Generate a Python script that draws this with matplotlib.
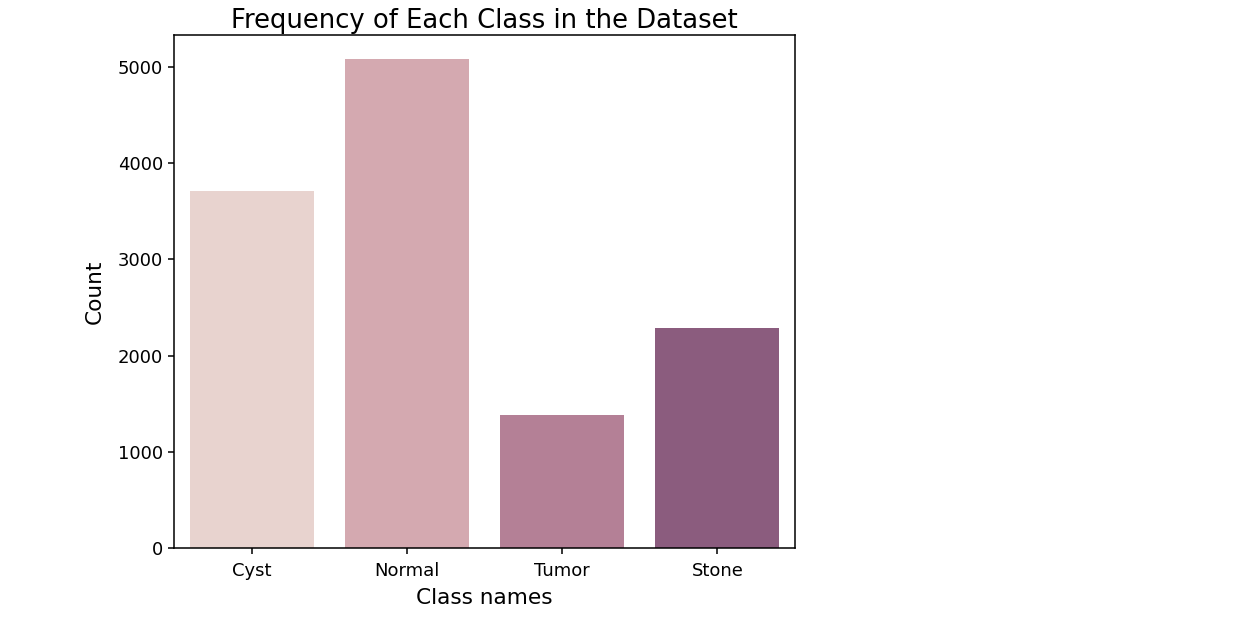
import matplotlib
matplotlib.use("Agg")
import matplotlib.pyplot as plt

class_names = ["Cyst", "Normal", "Tumor", "Stone"]
counts = [3709, 5077, 1377, 2283]
bar_colors = ["#e8d3cf", "#d4a9b0", "#b48096", "#8b5c7e"]

fig = plt.figure(figsize=(12.52, 6.37), dpi=100)
ax = fig.add_axes([174 / 1252, 1 - 548 / 637, (795 - 174) / 1252, (548 - 35) / 637])

ax.bar(range(len(class_names)), counts, width=0.8, color=bar_colors)
ax.set_xticks(range(len(class_names)))
ax.set_xticklabels(class_names)
ax.tick_params(labelsize=13, length=4.5, width=1.1)
ax.tick_params(axis="x", pad=5.5)
for side in ax.spines.values():
    side.set_linewidth(1.1)
ax.set_xlim(-0.5, len(class_names) - 0.5)
ax.set_ylim(0, max(counts) * 1.05)
ax.set_xlabel("Class names", fontsize=15.6, labelpad=6)
ax.set_ylabel("Count", fontsize=15.6, labelpad=9)
ax.set_title("Frequency of Each Class in the Dataset", fontsize=18.6, pad=5)

fig.savefig("out.png", dpi=100)
